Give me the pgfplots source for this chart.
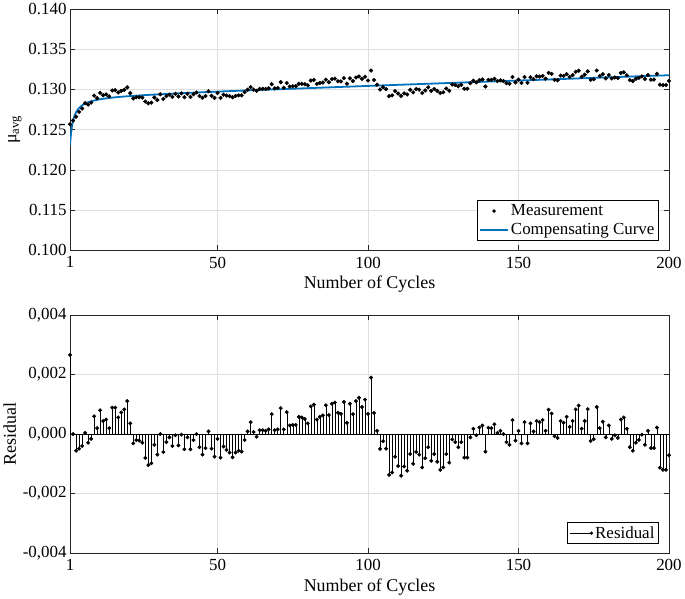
\documentclass[border=0pt]{standalone}
\usepackage{fontspec}
\setmainfont{Liberation Serif}
\usepackage{pgfplots}
\pgfplotsset{compat=1.18}
\usepackage{pgfplotstable}

\definecolor{mblue}{rgb}{0,0.447,0.741}
\definecolor{axgray}{rgb}{0.15,0.15,0.15}
\definecolor{gridgray}{rgb}{0.87,0.87,0.87}

\pgfplotstableread{
x y
1 0.12567
2 0.12613
3 0.12661
4 0.12721
5 0.12763
6 0.12829
7 0.12812
8 0.12837
9 0.12923
10 0.12891
11 0.12958
12 0.12928
13 0.12938
14 0.12914
15 0.12987
16 0.12991
17 0.12962
18 0.12982
19 0.12995
20 0.13026
21 0.12954
22 0.12889
23 0.12903
24 0.12903
25 0.12899
26 0.12850
27 0.12828
28 0.12836
29 0.12900
30 0.12869
31 0.12940
32 0.12882
33 0.12917
34 0.12935
35 0.12908
36 0.12946
37 0.12913
38 0.12951
39 0.12904
40 0.12946
41 0.12907
42 0.12940
43 0.12962
44 0.12919
45 0.12896
46 0.12919
47 0.12977
48 0.12921
49 0.12895
50 0.12957
51 0.12895
52 0.12934
53 0.12924
54 0.12917
55 0.12902
56 0.12920
57 0.12927
58 0.12926
59 0.12966
60 0.12997
61 0.13029
62 0.12998
63 0.12983
64 0.13007
65 0.13008
66 0.13007
67 0.13014
68 0.13066
69 0.13014
70 0.13018
71 0.13091
72 0.13021
73 0.13080
74 0.13037
75 0.13040
76 0.13042
77 0.13070
78 0.13070
79 0.13066
80 0.13052
81 0.13111
82 0.13118
83 0.13069
84 0.13080
85 0.13086
86 0.13122
87 0.13090
88 0.13129
89 0.13135
90 0.13102
91 0.13100
92 0.13141
93 0.13072
94 0.13138
95 0.13104
96 0.13149
97 0.13162
98 0.13132
99 0.13158
100 0.13112
101 0.13235
102 0.13118
103 0.13059
104 0.12999
105 0.13027
106 0.13003
107 0.12916
108 0.12926
109 0.12980
110 0.12950
111 0.12919
112 0.12951
113 0.12938
114 0.12996
115 0.12964
116 0.13005
117 0.12998
118 0.12956
119 0.12988
120 0.13027
121 0.12982
122 0.13006
123 0.12982
124 0.12956
125 0.12965
126 0.13012
127 0.12984
128 0.13063
129 0.13056
130 0.13040
131 0.13058
132 0.13008
133 0.13009
134 0.13078
135 0.13109
136 0.13088
137 0.13115
138 0.13124
139 0.13037
140 0.13118
141 0.13119
142 0.13133
143 0.13105
144 0.13114
145 0.13104
146 0.13078
147 0.13071
148 0.13155
149 0.13088
150 0.13122
151 0.13081
152 0.13154
153 0.13084
154 0.13152
155 0.13127
156 0.13163
157 0.13160
158 0.13168
159 0.13134
160 0.13206
161 0.13194
162 0.13120
163 0.13115
164 0.13173
165 0.13169
166 0.13190
167 0.13157
168 0.13179
169 0.13219
170 0.13233
171 0.13157
172 0.13184
173 0.13225
174 0.13120
175 0.13127
176 0.13236
177 0.13167
178 0.13190
179 0.13138
180 0.13180
181 0.13136
182 0.13149
183 0.13141
184 0.13205
185 0.13213
186 0.13176
187 0.13116
188 0.13105
189 0.13133
190 0.13144
191 0.13163
192 0.13130
193 0.13179
194 0.13122
195 0.13123
196 0.13194
197 0.13060
198 0.13054
199 0.13056
200 0.13106
}\meas

\pgfplotstableread{
x y
1 0.12301
1.1 0.12358
1.25 0.12426
1.5 0.12509
1.75 0.12568
2 0.12613
2.5 0.12675
3 0.12717
4 0.12770
5 0.12803
6 0.12825
7 0.12841
8 0.12853
10 0.12871
12 0.12884
14 0.12894
17 0.12906
20 0.12915
25 0.12928
30 0.12938
40 0.12957
50 0.12973
60 0.12988
70 0.13002
80 0.13016
90 0.13030
100 0.13044
120 0.13071
140 0.13098
160 0.13124
180 0.13151
200 0.13177
}\curve

\pgfplotstableread{
x r
1 2.66e-3
2 0
3 -0.56e-3
4 -0.49e-3
5 -0.40e-3
6 0.04e-3
7 -0.29e-3
8 -0.16e-3
9 0.60e-3
10 0.20e-3
11 0.80e-3
12 0.44e-3
13 0.49e-3
14 0.20e-3
15 0.89e-3
16 0.89e-3
17 0.56e-3
18 0.73e-3
19 0.83e-3
20 1.11e-3
21 0.36e-3
22 -0.31e-3
23 -0.20e-3
24 -0.22e-3
25 -0.29e-3
26 -0.80e-3
27 -1.04e-3
28 -0.98e-3
29 -0.36e-3
30 -0.69e-3
31 0
32 -0.60e-3
33 -0.27e-3
34 -0.11e-3
35 -0.40e-3
36 -0.04e-3
37 -0.38e-3
38 -0.02e-3
39 -0.51e-3
40 -0.11e-3
41 -0.51e-3
42 -0.20e-3
43 0
44 -0.44e-3
45 -0.69e-3
46 -0.47e-3
47 0.09e-3
48 -0.49e-3
49 -0.76e-3
50 -0.16e-3
51 -0.79e-3
52 -0.42e-3
53 -0.53e-3
54 -0.62e-3
55 -0.78e-3
56 -0.62e-3
57 -0.56e-3
58 -0.59e-3
59 -0.20e-3
60 0.09e-3
61 0.40e-3
62 0.07e-3
63 -0.09e-3
64 0.13e-3
65 0.13e-3
66 0.11e-3
67 0.16e-3
68 0.67e-3
69 0.13e-3
70 0.16e-3
71 0.87e-3
72 0.16e-3
73 0.74e-3
74 0.29e-3
75 0.31e-3
76 0.31e-3
77 0.58e-3
78 0.56e-3
79 0.51e-3
80 0.36e-3
81 0.93e-3
82 0.99e-3
83 0.49e-3
84 0.58e-3
85 0.63e-3
86 0.97e-3
87 0.64e-3
88 1.02e-3
89 1.06e-3
90 0.72e-3
91 0.68e-3
92 1.08e-3
93 0.38e-3
94 1.02e-3
95 0.67e-3
96 1.11e-3
97 1.22e-3
98 0.91e-3
99 1.16e-3
100 0.68e-3
101 1.90e-3
102 0.71e-3
103 0.11e-3
104 -0.50e-3
105 -0.24e-3
106 -0.49e-3
107 -1.37e-3
108 -1.29e-3
109 -0.76e-3
110 -1.07e-3
111 -1.40e-3
112 -1.09e-3
113 -1.23e-3
114 -0.67e-3
115 -1.00e-3
116 -0.60e-3
117 -0.69e-3
118 -1.12e-3
119 -0.81e-3
120 -0.44e-3
121 -0.90e-3
122 -0.67e-3
123 -0.93e-3
124 -1.20e-3
125 -1.12e-3
126 -0.67e-3
127 -0.96e-3
128 -0.18e-3
129 -0.27e-3
130 -0.44e-3
131 -0.27e-3
132 -0.79e-3
133 -0.79e-3
134 -0.11e-3
135 0.18e-3
136 -0.04e-3
137 0.22e-3
138 0.29e-3
139 -0.59e-3
140 0.21e-3
141 0.20e-3
142 0.33e-3
143 0.04e-3
144 0.11e-3
145 0
146 -0.27e-3
147 -0.36e-3
148 0.47e-3
149 -0.22e-3
150 0.11e-3
151 -0.31e-3
152 0.40e-3
153 -0.31e-3
154 0.36e-3
155 0.09e-3
156 0.44e-3
157 0.40e-3
158 0.47e-3
159 0.11e-3
160 0.82e-3
161 0.69e-3
162 -0.07e-3
163 -0.13e-3
164 0.44e-3
165 0.38e-3
166 0.58e-3
167 0.24e-3
168 0.44e-3
169 0.83e-3
170 0.96e-3
171 0.18e-3
172 0.44e-3
173 0.84e-3
174 -0.23e-3
175 -0.17e-3
176 0.91e-3
177 0.20e-3
178 0.42e-3
179 -0.11e-3
180 0.29e-3
181 -0.16e-3
182 -0.04e-3
183 -0.13e-3
184 0.49e-3
185 0.56e-3
186 0.18e-3
187 -0.44e-3
188 -0.56e-3
189 -0.29e-3
190 -0.20e-3
191 -0.02e-3
192 -0.36e-3
193 0.11e-3
194 -0.47e-3
195 -0.47e-3
196 0.22e-3
197 -1.13e-3
198 -1.20e-3
199 -1.20e-3
200 -0.71e-3
}\resid

\pgfplotsset{myax/.style={
  scale only axis, width=601pt,
  xmin=1, xmax=200,
  xtick={1,50,100,150,200}, xticklabels={1,50,100,150,200},
  tick align=inside, major tick length=5pt,
  axis line style={axgray, line width=0.6pt},
  tick style={axgray, line width=0.6pt},
  grid=major, grid style={gridgray, line width=0.6pt},
  font=\fontsize{17}{20}\selectfont,
  xticklabel style={yshift=-3pt},
  xlabel={Number of Cycles},
  xlabel style={font=\fontsize{18}{20}\selectfont, yshift=-1pt},
  ylabel style={font=\fontsize{18}{20}\selectfont},
  scaled y ticks=false,
  anchor=north west,
  legend cell align=left,
  legend style={draw=black, line width=0.7pt, fill=white,
    font=\fontsize{17}{19}\selectfont, inner sep=2pt, row sep=2pt},
}}

\begin{document}
\begin{tikzpicture}
\begin{axis}[myax, at={(0,0)}, height=242pt,
  ymin=0.110, ymax=0.140,
  ytick={0.110,0.115,0.120,0.125,0.130,0.135,0.140},
  yticklabels={0.100,0.115,0.120,0.125,0.130,0.135,0.140},
  ylabel={μ\textsubscript{avg}},
  legend style={at={(0.983,0.041)}, anchor=south east},
]
\addplot[only marks, mark=*, mark size=1.9pt, black, forget plot]
  table[x=x, y=y] {\meas};
\addplot[mblue, line width=1.8pt, smooth, forget plot]
  table[x=x, y=y] {\curve};
\addlegendimage{legend image code/.code={\path[draw=none, fill=none] (0pt,-1pt) rectangle (28pt,1pt); \fill[black, draw=none] (14pt,0pt) circle (1.9pt);}}
\addlegendentry{Measurement}
\addlegendimage{legend image code/.code={\draw[mblue, line width=1.8pt] (0pt,0pt) -- (28pt,0pt);}}
\addlegendentry{Compensating Curve}
\end{axis}

\begin{axis}[myax, at={(0,-307pt)}, height=239pt,
  ymin=-0.004, ymax=0.004,
  ytick={-0.004,-0.002,0,0.002,0.004},
  yticklabels={{-0,004},{-0,002},{0,000},{0,002},{0,004}},
  ylabel={Residual},
  legend style={at={(0.983,0.038)}, anchor=south east},
]
\addplot[black, line width=0.6pt, forget plot] coordinates {(1,0) (200,0)};
\addplot[ycomb, black, line width=0.5pt, mark=*, mark size=1.7pt, forget plot]
  table[x=x, y=r] {\resid};
\addlegendimage{legend image code/.code={\draw[black, line width=0.6pt] (0pt,0pt) -- (22pt,0pt); \fill[black, draw=none] (22pt,0pt) circle (1.7pt);}}
\addlegendentry{Residual}
\end{axis}
\end{tikzpicture}
\end{document}
